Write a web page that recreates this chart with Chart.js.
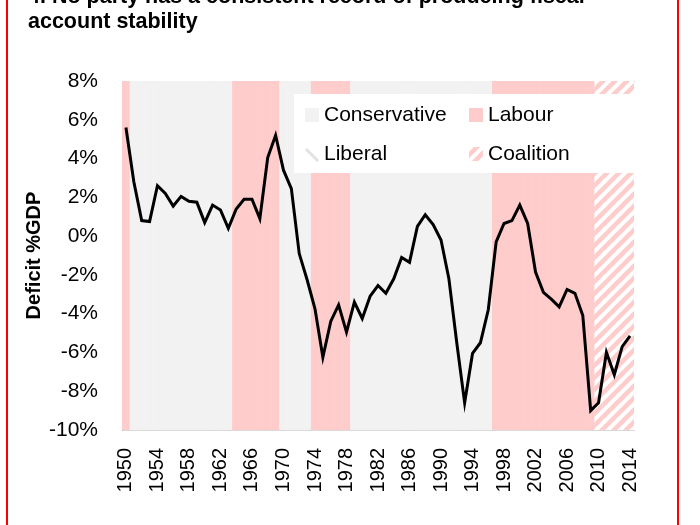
<!DOCTYPE html>
<html>
<head>
<meta charset="utf-8">
<script src="https://cdn.jsdelivr.net/npm/chart.js@4.4.0/dist/chart.umd.min.js"></script>
<style>
  body { margin: 0; background: #fff; }
  #wrap { position: relative; width: 700px; height: 525px; overflow: hidden; }
  #frame { position: absolute; left: 6px; top: -10px; width: 669px; height: 560px; border: 2px solid #ff0000; }
  #title { position: absolute; left: 28px; top: -16px; white-space: nowrap;
           font: bold 21.5px/25px "Liberation Sans", Arial, sans-serif; color: #000; }
  canvas { position: absolute; left: 0; top: 0; }
</style>
</head>
<body>
<div id="wrap">
  <canvas id="deficit-chart" width="700" height="525"></canvas>
  <div id="frame"></div>
  <div id="title">4. No party has a consistent record of producing fiscal<br>account stability</div>
</div>
<script>
// годы и дефицит (% ВВП)
const years = [1950,1951,1952,1953,1954,1955,1956,1957,1958,1959,
  1960,1961,1962,1963,1964,1965,1966,1967,1968,1969,
  1970,1971,1972,1973,1974,1975,1976,1977,1978,1979,
  1980,1981,1982,1983,1984,1985,1986,1987,1988,1989,
  1990,1991,1992,1993,1994,1995,1996,1997,1998,1999,
  2000,2001,2002,2003,2004,2005,2006,2007,2008,2009,
  2010,2011,2012,2013,2014];
const deficit = [5.6,2.8,0.8,0.75,2.6,2.2,1.55,2.05,1.8,1.75,
  0.7,1.6,1.35,0.4,1.4,1.9,1.9,0.9,4.05,5.2,
  3.4,2.45,-0.9,-2.25,-3.75,-6.25,-4.4,-3.55,-4.95,-3.4,
  -4.25,-3.1,-2.55,-2.95,-2.2,-1.1,-1.35,0.5,1.1,0.6,
  -0.2,-2.2,-5.5,-8.6,-6.05,-5.5,-3.8,-0.3,0.65,0.8,
  1.6,0.65,-1.85,-2.9,-3.25,-3.65,-2.75,-2.95,-4.1,-9.0,
  -8.6,-6.0,-7.15,-5.7,-5.15];
const tickYears = [1950,1954,1958,1962,1966,1970,1974,1978,1982,1986,1990,1994,1998,2002,2006,2010,2014];
// кто у власти: начало периода и партия
const periodStart = [1950,1951,1964,1970,1974,1979,1997,2010];
const periodParty = ['Labour','Conservative','Labour','Conservative','Labour','Conservative','Labour','Coalition'];
const legendNames = ['Conservative','Labour','Liberal','Coalition'];
const yMin = -10, yMax = 8;

// штриховка для коалиции
function makeHatch(color, back) {
  const c = document.createElement('canvas');
  c.width = 12; c.height = 12;
  const g = c.getContext('2d');
  g.fillStyle = back; g.fillRect(0, 0, 12, 12);
  g.strokeStyle = color; g.lineWidth = 4.5;
  g.beginPath();
  g.moveTo(-6, 6); g.lineTo(6, -6);
  g.moveTo(0, 12); g.lineTo(12, 0);
  g.moveTo(6, 18); g.lineTo(18, 6);
  g.stroke();
  return g.createPattern(c, 'repeat');
}
const hatch = makeHatch('#ffcccc', '#ffffff');
const partyFill = { Conservative: '#f2f2f2', Labour: '#ffcccc', Coalition: hatch };

function partyOf(year) {
  let p = periodParty[0];
  for (let i = 0; i < periodStart.length; i++) {
    if (year >= periodStart[i]) p = periodParty[i];
  }
  return p;
}

const legendBox = {
  id: 'legendBox',
  afterDatasetsDraw(chart) {
    const { ctx, chartArea: { left, top } } = chart;
    const bx = left + 172, by = top + 13;
    ctx.save();
    ctx.fillStyle = '#fff';
    ctx.fillRect(bx, by, 340, 79);
    ctx.font = '21px "Liberation Sans", Arial, sans-serif';
    ctx.textBaseline = 'middle';
    for (let i = 0; i < legendNames.length; i++) {
      const mx = bx + 11 + (i % 2) * 164;
      const my = by + 14 + Math.floor(i / 2) * 39;
      const name = legendNames[i];
      if (name === 'Liberal') {
        ctx.strokeStyle = '#e2e2e2';
        ctx.lineWidth = 3;
        ctx.beginPath();
        ctx.moveTo(mx + 1, my + 2); ctx.lineTo(mx + 13, my + 14);
        ctx.stroke();
      } else {
        ctx.fillStyle = partyFill[name];
        ctx.fillRect(mx, my, 14, 14);
      }
      ctx.fillStyle = '#000';
      ctx.fillText(name, mx + 19, my + 7);
    }
    ctx.restore();
  }
};

const ctx = document.getElementById('deficit-chart').getContext('2d');
Chart.defaults.font.family = '"Liberation Sans", Arial, sans-serif';
Chart.defaults.color = '#000';

const deficitChart = new Chart(ctx, {
  type: 'bar',
  data: {
    labels: years,
    datasets: [
      {
        type: 'line',
        data: deficit,
        borderColor: '#000',
        borderWidth: 3,
        pointRadius: 0,
        tension: 0,
        order: 0
      },
      {
        data: years.map(() => [yMin, yMax]),
        backgroundColor: years.map(y => partyFill[partyOf(y)]),
        borderWidth: 0,
        barPercentage: 1.05,
        categoryPercentage: 1,
        order: 1
      }
    ]
  },
  options: {
    responsive: false,
    animation: false,
    layout: { padding: { left: 18, top: 81, right: 66, bottom: 0 } },
    scales: {
      x: {
        offset: true,
        grid: { display: false, drawTicks: false },
        border: { color: '#d9d9d9', width: 1 },
        ticks: {
          autoSkip: false,
          minRotation: 90,
          maxRotation: 90,
          padding: 18,
          font: { size: 20 },
          callback: function (value, index) {
            return tickYears.includes(years[index]) ? String(years[index]) : null;
          }
        },
        afterFit: (s) => { s.height = 95; s.paddingLeft = 0; s.paddingRight = 0; }
      },
      x2: {
        type: 'category',
        position: 'top',
        offset: true,
        grid: { display: false, drawTicks: false },
        border: { color: '#d9d9d9', width: 1 },
        ticks: { display: false }
      },
      y: {
        min: yMin,
        max: yMax,
        grid: { display: false, drawTicks: false },
        border: { color: '#bfbfbf', width: 1 },
        ticks: {
          stepSize: 2,
          padding: 24,
          font: { size: 21 },
          callback: (value) => `${value}%`
        },
        title: {
          display: true,
          text: 'Deficit %GDP',
          font: { size: 20, weight: 'bold' },
          padding: 4
        },
        afterFit: (s) => { s.width = 104; s.paddingTop = 0; s.paddingBottom = 0; }
      }
    },
    plugins: {
      legend: { display: false },
      tooltip: { enabled: false }
    }
  },
  plugins: [legendBox]
});
</script>
</body>
</html>
